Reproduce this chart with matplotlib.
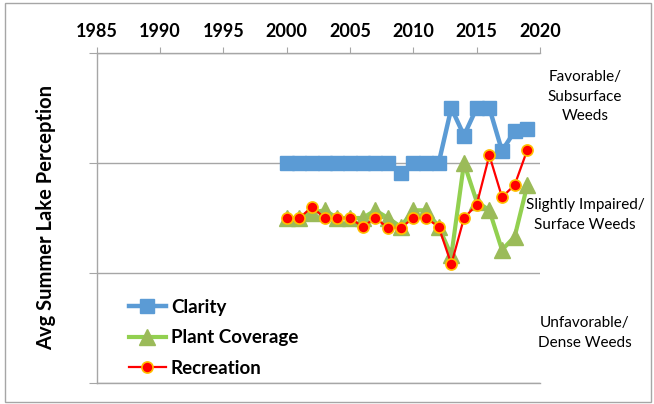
import matplotlib
matplotlib.use("Agg")
import matplotlib.pyplot as plt
from matplotlib.patches import Rectangle

years = list(range(2000, 2020))
clarity = [2.0, 2.0, 2.0, 2.0, 2.0, 2.0, 2.0, 2.0, 2.0, 1.91, 2.0, 2.0, 2.0,
           2.5, 2.25, 2.5, 2.5, 2.11, 2.29, 2.31]
plant = [1.5, 1.5, 1.55, 1.57, 1.5, 1.5, 1.5, 1.57, 1.5, 1.42, 1.57, 1.57, 1.42,
         1.16, 2.0, 1.65, 1.57, 1.21, 1.33, 1.8]
recreation = [1.5, 1.5, 1.6, 1.5, 1.5, 1.5, 1.42, 1.5, 1.41, 1.41, 1.5, 1.5, 1.42,
              1.08, 1.5, 1.62, 2.07, 1.69, 1.8, 2.12]
xticks = [1985, 1990, 1995, 2000, 2005, 2010, 2015, 2020]
zone_labels = ["Favorable/\nSubsurface\nWeeds",
               "Slightly Impaired/\nSurface Weeds",
               "Unfavorable/\nDense Weeds"]

plt.rcParams['font.family'] = ['Lato', 'DejaVu Sans']

fig = plt.figure(figsize=(6.54, 4.04), dpi=100)
fig.patches.append(Rectangle((5/654, 0.005), 646/654, 1 - 3/404 - 0.005,
                             transform=fig.transFigure, fill=False,
                             edgecolor='#A6A6A6', linewidth=1.0))
ax = fig.add_axes([96.7/654, 21/404, 443.3/654, 330/404])

grey = '#A6A6A6'
ax.plot(years, clarity, color='#5B9BD5', lw=3.2, marker='s', ms=9.5,
        mfc='#5B9BD5', mec='#5B9BD5', label='Clarity', zorder=3)
ax.plot(years, plant, color='#92D050', lw=3.0, marker='^', ms=11.5,
        mfc='#9BBB59', mec='#9BBB59', label='Plant Coverage', zorder=4)
ax.plot(years, recreation, color='#FF0000', lw=1.6, marker='o', ms=8,
        mfc='#FF0000', mec='#FFC000', mew=1.2, label='Recreation', zorder=5)

ax.set_xlim(1985, 2020)
ax.set_ylim(0, 3)
ax.xaxis.tick_top()
ax.set_xticks(xticks)
ax.set_xticklabels([str(t) for t in xticks], fontsize=13, fontweight='bold')
ax.tick_params(axis='x', direction='out', length=4, color=grey, pad=5.5)
ax.set_yticks([0, 1, 2, 3])
ax.set_yticklabels([])
ax.tick_params(axis='y', direction='out', length=6, color=grey)
ax.grid(axis='y', color=grey, lw=1.0)
ax.set_axisbelow(True)
for s in ['top', 'left', 'bottom']:
    ax.spines[s].set_color(grey)
    ax.spines[s].set_linewidth(1.0)
ax.spines['right'].set_visible(False)

ax.set_ylabel('Avg Summer Lake Perception', fontsize=14.5, fontweight='bold',
              labelpad=20)

for lab, y in zip(zone_labels, [2.6, 1.527, 0.455]):
    ax.text(2023.55, y, lab, ha='center', va='center', fontsize=11,
            linespacing=1.5, clip_on=False)

leg = ax.legend(loc='upper left', bbox_to_anchor=(0.055, 0.278), frameon=False,
                prop={'weight': 'bold', 'size': 13.5}, handlelength=2.0,
                handletextpad=0.25, labelspacing=0.72, borderaxespad=0)

fig.savefig('out.png', dpi=100)
